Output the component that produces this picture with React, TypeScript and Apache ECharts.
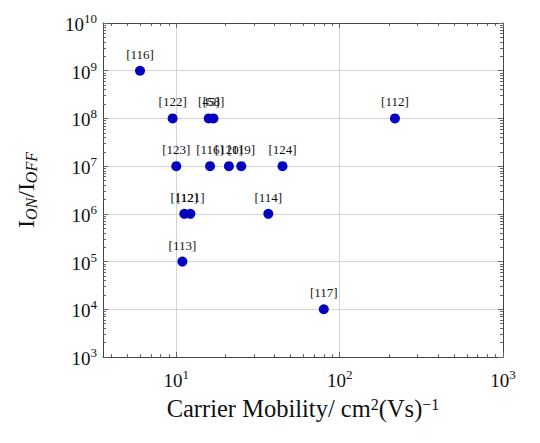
import React, { useEffect, useRef } from "react";
import * as echarts from "echarts";

// ---- data ----
const refs = ["[116]", "[122]", "[45]", "[58]", "[112]", "[123]", "[116]", "[120]", "[119]", "[124]", "[112]", "[121]", "[114]", "[113]", "[117]"];
const mobility = [6, 9.5, 15.8, 16.9, 218, 10, 16.1, 21, 25, 44.7, 11.2, 12.2, 36.6, 10.9, 80];
const onOff = [1e9, 1e8, 1e8, 1e8, 1e8, 1e7, 1e7, 1e7, 1e7, 1e7, 1e6, 1e6, 1e6, 1e5, 1e4];

const xMajor = [10, 100, 1000];
const xMinor = [4, 5, 6, 7, 8, 9, 20, 30, 40, 50, 60, 70, 80, 90, 200, 300, 400, 500, 600, 700, 800, 900];
const yMajor = [1e3, 1e4, 1e5, 1e6, 1e7, 1e8, 1e9, 1e10];
const yMinor: number[] = [];
for (let e = 3; e < 10; e++) for (let m = 2; m <= 9; m++) yMinor.push(m * Math.pow(10, e));

const FONT = "'Liberation Serif', 'DejaVu Serif', serif";
const AXIS_COLOR = "#444";
const TICK_COLOR = "#666";

const powLabel = (v: number) => {
  const e = Math.round(Math.log10(v));
  return `{b|10}{s|${e}}`;
};
const powRich = {
  b: { fontSize: 19, fontFamily: FONT, color: "#111", lineHeight: 22, verticalAlign: "bottom" },
  s: { fontSize: 13, fontFamily: FONT, color: "#111", lineHeight: 8, verticalAlign: "top" },
};

function makeX(position: "bottom" | "top", major: boolean, main: boolean) {
  return {
    type: "log",
    logBase: 10,
    position,
    min: 3.56,
    max: 1000,
    axisLine: { show: major, lineStyle: { color: AXIS_COLOR, width: 1 } },
    axisTick: {
      show: true,
      inside: true,
      length: major ? 5 : 3,
      customValues: major ? xMajor : xMinor,
      lineStyle: { color: TICK_COLOR, width: 1 },
    },
    minorTick: { show: false },
    axisLabel: main
      ? { show: true, customValues: xMajor, formatter: powLabel, rich: powRich, margin: 11 }
      : { show: false },
    splitLine: main ? { show: true, lineStyle: { color: "#d4d4d4", width: 1 } } : { show: false },
    name: main ? "Carrier Mobility/ cm{s|2}(Vs){s|\u22121}" : "",
    nameLocation: "middle",
    nameGap: 39,
    nameTextStyle: {
      fontSize: 24.5,
      fontFamily: FONT,
      color: "#111",
      rich: {
        s: { fontSize: 16, fontFamily: FONT, color: "#111", lineHeight: 9, verticalAlign: "top" },
      },
    },
  };
}

function makeY(position: "left" | "right", major: boolean, main: boolean) {
  return {
    type: "log",
    logBase: 10,
    position,
    min: 1e3,
    max: 1e10,
    axisLine: { show: major, lineStyle: { color: AXIS_COLOR, width: 1 } },
    axisTick: {
      show: true,
      inside: true,
      length: major ? 5 : 3,
      customValues: major ? yMajor : yMinor,
      lineStyle: { color: TICK_COLOR, width: 1 },
    },
    minorTick: { show: false },
    axisLabel: main
      ? { show: true, customValues: yMajor, formatter: powLabel, rich: powRich, margin: 6 }
      : { show: false },
    splitLine: main ? { show: true, lineStyle: { color: "#d4d4d4", width: 1 } } : { show: false },
    name: main ? "I{sub|ON}/I{sub|OFF}" : "",
    nameLocation: "middle",
    nameRotate: 90,
    nameGap: 64,
    nameTextStyle: {
      fontSize: 24,
      fontFamily: FONT,
      color: "#111",
      lineHeight: 26,
      rich: {
        sub: { fontSize: 16, fontStyle: "italic", fontFamily: FONT, color: "#111", lineHeight: 15, verticalAlign: "bottom" },
      },
    },
  };
}

export default function App() {
  const ref = useRef<HTMLDivElement>(null);
  useEffect(() => {
    if (!ref.current) return;
    const chart = echarts.init(ref.current, null, { renderer: "svg" });
    chart.setOption({
      animation: false,
      backgroundColor: "#fff",
      grid: { left: 103, right: 37, top: 23, bottom: 86, containLabel: false },
      xAxis: [makeX("bottom", true, true), makeX("bottom", false, false), makeX("top", true, false), makeX("top", false, false)],
      yAxis: [makeY("left", true, true), makeY("left", false, false), makeY("right", true, false), makeY("right", false, false)],
      series: [
        {
          type: "scatter",
          xAxisIndex: 0,
          yAxisIndex: 0,
          symbol: "circle",
          symbolSize: 10,
          itemStyle: { color: "#0202bf", opacity: 1 },
          label: {
            show: true,
            position: "top",
            distance: 5,
            formatter: "{b}",
            fontSize: 13,
            fontFamily: FONT,
            color: "#111",
          },
          data: mobility.map((m, i) => ({ name: refs[i], value: [m, onOff[i]] })),
        },
      ],
    });
    return () => chart.dispose();
  }, []);
  return <div ref={ref} style={{ position: "absolute", left: 0, top: 0, width: 540, height: 443 }} />;
}
